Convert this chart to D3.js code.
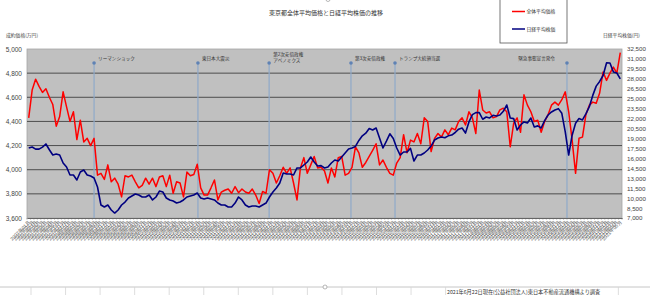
<!DOCTYPE html>
<html lang="ja">
<head>
<meta charset="utf-8">
<title>東京都全体平均価格と日経平均株価の推移</title>
<script src="https://d3js.org/d3.v7.min.js"></script>
<style>
  body { margin: 0; background: #fff; }
  svg { display: block; font-family: "Noto Sans CJK JP", "Noto Sans", sans-serif; }
  .num text, text.num { font-family: "Liberation Sans", Arial, sans-serif; }
</style>
</head>
<body>
<script>

// 全体平均価格 (万円), monthly from 2007年1月
var avgPrice = [
  4430, 4660, 4750, 4690, 4640, 4670, 4600, 4540, 4360, 4440,
  4645, 4520, 4400, 4480, 4250, 4410, 4230, 4260, 4200, 4260,
  3955, 3970, 3920, 4040, 3900, 3930, 3880, 3775, 3950, 3940,
  3955, 3900, 3850, 3870, 3930, 3880, 3930, 3860, 3940, 3950,
  3860, 3955, 3805, 3900, 3890, 3775, 3980, 3950, 3960, 4045,
  3850, 3790, 3790, 3850, 3915, 3750, 3815, 3830, 3840, 3805,
  3860, 3810, 3840, 3815, 3805, 3840, 3790, 3720, 3820, 3805,
  4000, 3970, 3890, 3950, 4020, 3970, 4015, 3890, 3750, 4015,
  4100, 3970, 4040, 4110, 4015, 4020, 3990, 3890, 4015, 3940,
  4100, 4110, 3955, 3970, 4020, 4190, 4140, 4020, 4060, 4110,
  4160, 4215, 4040, 4080, 4020, 3970, 3955, 4055, 4100, 4290,
  4140, 4245, 4230, 4300, 4215, 4430, 4400, 4150, 4260, 4300,
  4270, 4330, 4290, 4345, 4330, 4400, 4430, 4370, 4480, 4430,
  4300, 4660, 4495, 4470, 4480, 4430, 4440, 4495, 4510, 4480,
  4190, 4385, 4430, 4310, 4620, 4535, 4480, 4400, 4410, 4310,
  4400, 4455, 4535, 4560, 4535, 4580, 4645, 4480, 4245, 3970,
  4260, 4270, 4455, 4535, 4560, 4550, 4635, 4810, 4740, 4800,
  4850, 4800, 4970
];

// 日経平均株価 (円)
var nikkei = [
  17560, 17710, 17400, 17400, 17700, 18170, 17300, 16500, 16660, 16500,
  15300, 14700, 13490, 13490, 12730, 13940, 14240, 13490, 13340, 13040,
  11680, 8960, 8660, 8960, 8210, 7750, 8210, 8960, 9410, 10020,
  10320, 10620, 10470, 10170, 10170, 10470, 9720, 10170, 11070, 10920,
  10020, 9720, 9560, 9260, 9410, 9720, 10170, 10320, 10470, 10770,
  10020, 9870, 10020, 9870, 9720, 9260, 8960, 8960, 8660, 8660,
  9260, 10170, 9720, 8960, 8660, 8810, 8810, 8660, 8960, 9260,
  10170, 10920, 11530, 12280, 13790, 13640, 13640, 13490, 14550, 14550,
  15000, 15450, 16200, 15450, 14850, 14900, 14550, 14700, 15300, 15750,
  15600, 16200, 16800, 17400, 17560, 17800, 18700, 19400, 19800, 20500,
  20280, 20580, 19070, 17560, 18600, 19700, 19000, 17560, 16500, 16960,
  16960, 17500, 15600, 16500, 16500, 16810, 17260, 17860, 18770, 19070,
  19220, 19100, 19400, 19520, 19900, 20400, 20580, 19820, 21500, 22600,
  22900, 22900, 21900, 22240, 22090, 22500, 22400, 22540, 23100, 24050,
  22090, 22000, 20280, 21030, 21490, 21340, 22090, 20730, 20900, 20580,
  21700, 22540, 23000, 23300, 23500, 22800, 20000, 16500, 19500, 21300,
  22000, 21800, 22700, 23800, 25500, 26900, 27600, 28500, 30400, 30390,
  29030, 28880, 28000
];

var seriesNames = ["全体平均価格", "日経平均株価"];
var seriesColors = ["#ff0000", "#000080"];

var leftTicks = [3600, 3800, 4000, 4200, 4400, 4600, 4800, 5000];
var rightTicks = d3.range(7000, 32501, 1500);

// events, placed on the month index axis as drawn in the picture
var events = [
  { idx: 19.0,  label: ["リーマンショック"] },
  { idx: 49.2,  label: ["東日本大震災"] },
  { idx: 69.9,  label: ["第2次安倍政権", "アベノミクス"] },
  { idx: 93.7,  label: ["第3次安倍政権"] },
  { idx: 106.5, label: ["トランプ大統領当選"] },
  { idx: 156.5, label: ["緊急事態宣言発令"], left: true }
];

var startYear = 2007;
var months = [];
for (var i = 0; i < avgPrice.length; i++) {
  var mo = i % 12 + 1;
  months.push((startYear + Math.floor(i / 12)) + "年" + (mo < 10 ? "0" + mo : mo) + "月");
}

var w = 650, h = 295;
var plot = { left: 27, top: 49, right: 622, bottom: 218 };

var svg = d3.select("body").append("svg")
  .attr("width", w).attr("height", h);

var x = d3.scaleLinear().domain([-0.5, months.length - 0.5]).range([plot.left, plot.right]);
var yL = d3.scaleLinear().domain([3600, 5000]).range([plot.bottom, plot.top]);
var yR = d3.scaleLinear().domain([7000, 32500]).range([plot.bottom, plot.top]);

// title
svg.append("text")
  .attr("x", 326).attr("y", 15)
  .attr("text-anchor", "middle")
  .attr("font-size", 6).attr("fill", "#333")
  .text("東京都全体平均価格と日経平均株価の推移");

// axis titles
svg.append("text").attr("x", 6).attr("y", 36.5)
  .attr("font-size", 4.8).attr("fill", "#444").text("成約価格(万円)");
svg.append("text").attr("x", 603).attr("y", 36.5)
  .attr("font-size", 4.8).attr("fill", "#444").text("日経平均株価(円)");

// plot area
svg.append("rect")
  .attr("x", plot.left).attr("y", plot.top)
  .attr("width", plot.right - plot.left).attr("height", plot.bottom - plot.top)
  .attr("fill", "#c0c0c0").attr("stroke", "#a6a6a6").attr("stroke-width", 0.8);

svg.append("g").selectAll("line")
  .data(leftTicks.slice(1, -1))
  .enter().append("line")
  .attr("x1", plot.left).attr("x2", plot.right)
  .attr("y1", function(d) { return yL(d); })
  .attr("y2", function(d) { return yL(d); })
  .attr("stroke", "#4d4d4d").attr("stroke-width", 1);

// left axis
var axL = svg.append("g").attr("class", "num")
  .attr("transform", "translate(" + plot.left + ",0)")
  .call(d3.axisLeft(yL).tickValues(leftTicks).tickFormat(d3.format(",")).tickSize(0).tickPadding(5));
axL.select(".domain").remove();
axL.selectAll("text").attr("font-size", 6.5).attr("fill", "#444");

// right axis
var axR = svg.append("g").attr("class", "num")
  .attr("transform", "translate(" + plot.right + ",0)")
  .call(d3.axisRight(yR).tickValues(rightTicks).tickFormat(d3.format(",")).tickSize(0).tickPadding(5));
axR.select(".domain").remove();
axR.selectAll("text").attr("font-size", 6.2).attr("fill", "#444");

// bottom axis
var axB = svg.append("g")
  .attr("transform", "translate(0," + plot.bottom + ")")
  .call(d3.axisBottom(x).tickValues(d3.range(months.length))
    .tickFormat(function(d) { return months[d]; }).tickSize(0).tickPadding(0));
axB.select(".domain").attr("stroke", "#666");
axB.selectAll("text")
  .attr("font-size", 4.8).attr("fill", "#555")
  .attr("text-anchor", "end")
  .attr("dy", 0)
  .attr("transform", "translate(1.5,4.5) rotate(-45)");
svg.append("g").selectAll("line")
  .data(d3.range(months.length + 1))
  .enter().append("line")
  .attr("x1", function(d) { return x(d - 0.5); })
  .attr("x2", function(d) { return x(d - 0.5); })
  .attr("y1", plot.bottom).attr("y2", plot.bottom + 1.5)
  .attr("stroke", "#666").attr("stroke-width", 0.6);

// event markers
var ev = svg.append("g");
ev.selectAll("line").data(events).enter().append("line")
  .attr("x1", function(d) { return x(d.idx); })
  .attr("x2", function(d) { return x(d.idx); })
  .attr("y1", 63).attr("y2", plot.bottom)
  .attr("stroke", "#8fa9c9").attr("stroke-width", 1.2);
ev.selectAll("circle").data(events).enter().append("circle")
  .attr("cx", function(d) { return x(d.idx); })
  .attr("cy", 63).attr("r", 1.8)
  .attr("fill", "#5f82b4");
ev.selectAll("text").data(events).enter().append("text")
  .attr("x", function(d) { return d.left ? x(d.idx) - 12 : x(d.idx) + 4; })
  .attr("y", function(d) { return d.label.length > 1 ? 56 : 60; })
  .attr("text-anchor", function(d) { return d.left ? "end" : "start"; })
  .attr("font-size", 4.6).attr("fill", "#333")
  .each(function(d) {
    var t = d3.select(this);
    d.label.forEach(function(s, k) {
      t.append("tspan").attr("x", t.attr("x")).attr("dy", k ? 5.5 : 0).text(s);
    });
  });

// series lines
svg.append("clipPath").attr("id", "clip").append("rect")
  .attr("x", plot.left).attr("y", plot.top - 2)
  .attr("width", plot.right - plot.left).attr("height", plot.bottom - plot.top + 2);

var lineL = d3.line().x(function(d, i) { return x(i); }).y(function(d) { return yL(d); });
var lineR = d3.line().x(function(d, i) { return x(i); }).y(function(d) { return yR(d); });

svg.append("path").datum(avgPrice)
  .attr("clip-path", "url(#clip)")
  .attr("d", lineL).attr("fill", "none")
  .attr("stroke", seriesColors[0]).attr("stroke-width", 1.5)
  .attr("stroke-linejoin", "round");
svg.append("path").datum(nikkei)
  .attr("clip-path", "url(#clip)")
  .attr("d", lineR).attr("fill", "none")
  .attr("stroke", seriesColors[1]).attr("stroke-width", 1.6)
  .attr("stroke-linejoin", "round");

// legend
var lg = svg.append("g");
lg.append("rect").attr("x", 500).attr("y", -1).attr("width", 67).attr("height", 44)
  .attr("fill", "#fff").attr("stroke", "#555").attr("stroke-width", 0.8);
seriesNames.forEach(function(name, k) {
  var yy = k ? 29 : 11.5;
  lg.append("line").attr("x1", 512).attr("x2", 525).attr("y1", yy).attr("y2", yy)
    .attr("stroke", seriesColors[k]).attr("stroke-width", 1.5);
  lg.append("text").attr("x", 526.5).attr("y", yy + 1.8)
    .attr("font-size", 4.8).attr("fill", "#333").text(name);
});

// sheet area under the chart
svg.append("line").attr("x1", 0).attr("x2", w).attr("y1", 287).attr("y2", 287)
  .attr("stroke", "#b8b8b8").attr("stroke-width", 0.8);
var cols = d3.range(0, 13).concat([17, 18]);
svg.append("g").selectAll("line").data(cols).enter().append("line")
  .attr("x1", function(d) { return 31 + d * 34.55; })
  .attr("x2", function(d) { return 31 + d * 34.55; })
  .attr("y1", 287).attr("y2", h)
  .attr("stroke", "#d4d4d4").attr("stroke-width", 0.8);
svg.append("circle").attr("cx", 325).attr("cy", 287).attr("r", 2)
  .attr("fill", "#fff").attr("stroke", "#999").attr("stroke-width", 0.7);
svg.append("circle").attr("cx", 328).attr("cy", -0.5).attr("r", 2)
  .attr("fill", "#fff").attr("stroke", "#999").attr("stroke-width", 0.7);
svg.append("text").attr("x", 447).attr("y", 293.5)
  .attr("font-size", 5.2).attr("fill", "#333")
  .text("2021年6月22日現在(公益社団法人)東日本不動産流通機構より調査");

</script>
</body>
</html>
